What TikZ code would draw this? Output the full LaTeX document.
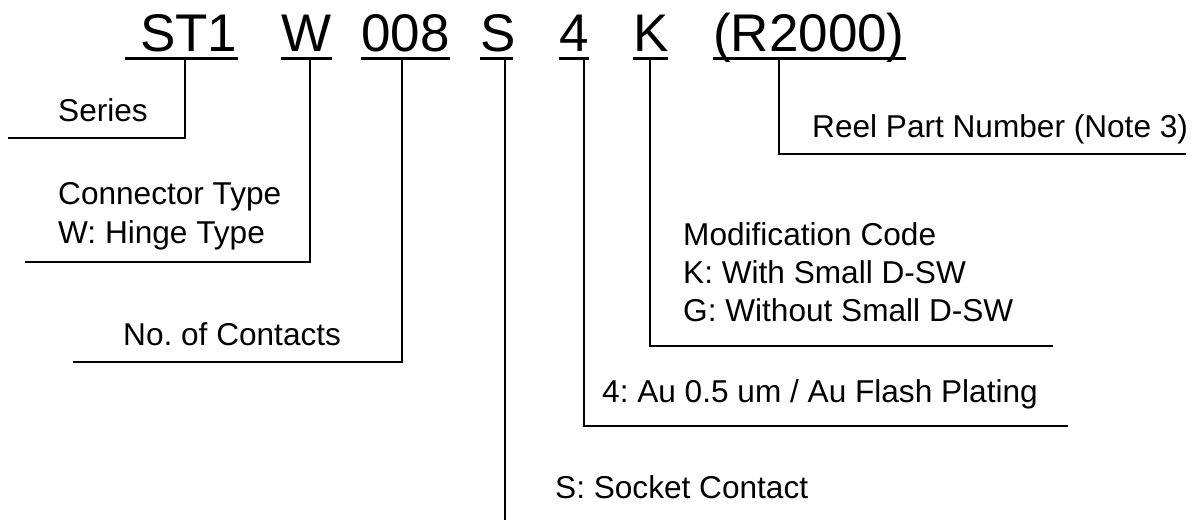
\documentclass[tikz,border=0pt]{standalone}
\usepackage{fontspec}
\setmainfont{Liberation Sans}
\frenchspacing
\begin{document}
\begin{tikzpicture}[x=1pt,y=-1pt,
  code/.style={inner sep=0pt,anchor=base west,font=\fontsize{53}{60}\selectfont},
  lbl/.style={inner sep=0pt,anchor=base west,font=\fontsize{31.6}{38}\selectfont},
  uline/.style={line width=3pt},
  lead/.style={line width=1.6pt}]
\useasboundingbox (0,0) rectangle (1198,520);
% code letters
\node[code] (c1) at (140,51) {ST1};
\node[code] (c2) at (281,51) {W};
\node[code] (c3) at (361,51) {008};
\node[code] (c4) at (480,51) {S};
\node[code] (c5) at (559,51) {4};
\node[code] (c6) at (633,51) {K};
\node[code] (c7) at (713,51) {(R2000)};
% underlines
\draw[uline] (125,58) -- (238,58);
\draw[uline] (281,58) -- (332,58);
\draw[uline] (361,58) -- (450,58);
\draw[uline] (480,58) -- (513,58);
\draw[uline] (559,58) -- (589,58);
\draw[uline] (633,58) -- (668,58);
\draw[uline] (713,58) -- (906,58);
% drop points
\coordinate (d1) at (185,59);
\coordinate (d2) at (310,59);
\coordinate (d3) at (402,59);
\coordinate (d4) at (505,59);
\coordinate (d5) at (584,59);
\coordinate (d6) at (650,59);
\coordinate (d7) at (779,59);
% line ends
\coordinate (e1) at (8,138);
\coordinate (e2) at (25,262);
\coordinate (e3) at (73,362);
\coordinate (e4) at (505,520);
\coordinate (e5) at (1068,426);
\coordinate (e6) at (1053,346);
\coordinate (e7) at (1186,154);
% leaders
\draw[lead] (d1) |- (e1);
\draw[lead] (d2) |- (e2);
\draw[lead] (d3) |- (e3);
\draw[lead] (d4) -- (e4);
\draw[lead] (d5) |- (e5);
\draw[lead] (d6) |- (e6);
\draw[lead] (d7) |- (e7);
% labels
\node[lbl] (l1) at (58,121) {Series};
\node[lbl] (l2a) at (58,204) {Connector Type};
\node[lbl] (l2b) at (58,243) {W: Hinge Type};
\node[lbl] (l3) at (123,345) {No. of Contacts};
\node[lbl] (l4) at (555,498) {S: Socket Contact};
\node[lbl] (l5) at (602,402) {4: Au 0.5 um / Au Flash Plating};
\node[lbl] (l6a) at (683,245) {Modification Code};
\node[lbl] (l6b) at (683,283) {K: With Small D-SW};
\node[lbl] (l6c) at (683,321) {G: Without Small D-SW};
\node[lbl] (l7) at (812,137) {Reel Part Number (Note 3)};
\end{tikzpicture}
\end{document}
